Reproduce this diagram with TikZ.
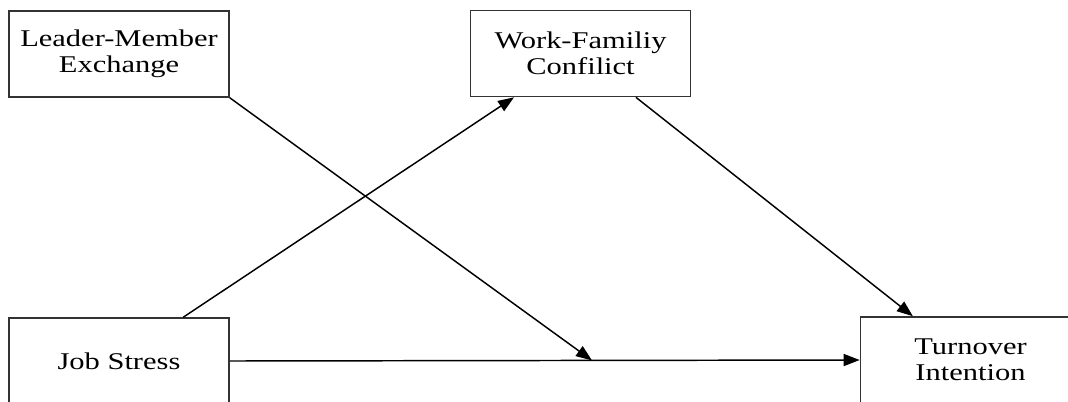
\documentclass[tikz,border=0pt]{standalone}
\usepackage{fontspec}
\setmainfont{Liberation Serif}
\usepackage{graphicx}
\usetikzlibrary{arrows.meta,calc}

\newcommand{\wideline}[1]{\scalebox{1.27}[1]{#1}}

\tikzset{
  varbox/.style={draw=black!80, line width=1.2pt, minimum width=165pt, minimum height=64.5pt,
                 align=center, font=\fontsize{18}{19.5}\selectfont, inner sep=0pt},
  path/.style={draw, line width=1.1pt, -{Triangle[length=12pt,width=9pt]}}
}

\begin{document}
\begin{tikzpicture}[x=0.75pt, y=-0.75pt]
  \clip (0,0) rectangle (1068,401);

  % variables
  \node[varbox] (lmx) at (119,54)    {\wideline{Leader-Member}\\\wideline{Exchange}};
  \node[varbox] (wfc) at (580.5,53.5) {\wideline{Work-Familiy}\\\wideline{Confilict}};
  \node[varbox] (js)  at (119,361)   {\wideline{Job Stress}};
  \node[varbox] (ti)  at (970.5,360) {\wideline{Turnover}\\\wideline{Intention}};

  % moderation point on the direct path
  \coordinate (meet) at ($(js.east)!0.575!(ti.west)$);

  % paths
  \draw[path] ($(js.north west)!0.79!(js.north east)$) -- ($(wfc.south west)!0.2!(wfc.south east)$);
  \draw[path] ($(wfc.south west)!0.75!(wfc.south east)$) -- ($(ti.north west)!0.24!(ti.north east)$);
  \draw[path] (js.east) -- (ti.west);
  \draw[path] (lmx.south east) -- (meet);
\end{tikzpicture}
\end{document}
